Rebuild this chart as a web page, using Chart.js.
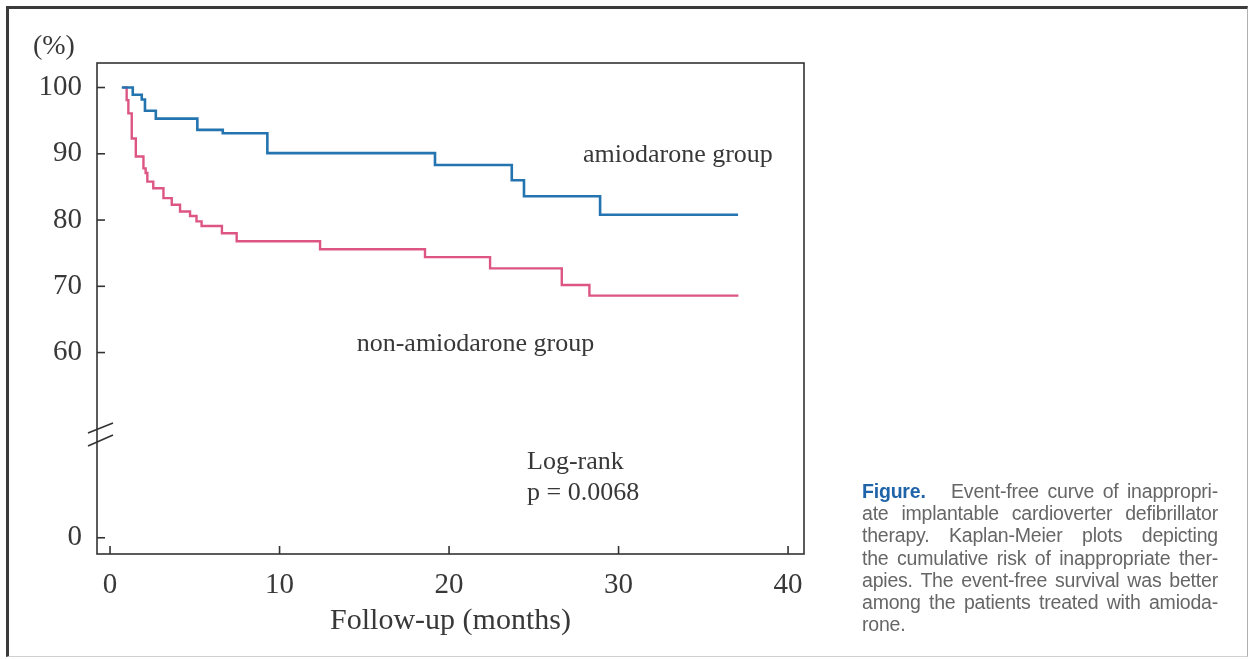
<!DOCTYPE html>
<html>
<head>
<meta charset="utf-8">
<script src="https://cdn.jsdelivr.net/npm/chart.js@4.4.0/dist/chart.umd.min.js"></script>
<style>
  body { margin: 0; background: #fff; }
  #wrap { position: relative; width: 1249px; height: 659px; overflow: hidden; }
  #frame { position: absolute; left: 6px; top: 6px; width: 1238px; height: 647px;
    border-top: 3px solid #3b3b3b; border-left: 3px solid #3b3b3b;
    border-right: 1px solid #b0b0b0; border-bottom: 1px solid #d0d0d0; }
  #box { position: absolute; left: 0; top: 0; width: 1249px; height: 659px; }
  #caption { position: absolute; left: 862px; top: 480px; width: 356px;
    font-family: "Liberation Sans", Arial, sans-serif; font-size: 19.5px; line-height: 22.2px;
    letter-spacing: -0.2px; color: #666; }
  #caption div { text-align: justify; text-align-last: justify; }
  #caption div.last { text-align-last: left; }
  #caption b { color: #1f64a8; }
</style>
</head>
<body>
<div id="wrap">
  <div id="frame"></div>
  <div id="box"><canvas id="km"></canvas></div>
  <div id="caption">
    <div><b>Figure.</b>&nbsp;&nbsp; Event-free curve of inappropri-</div>
    <div>ate implantable cardioverter defibrillator</div>
    <div>therapy. Kaplan-Meier plots depicting</div>
    <div>the cumulative risk of inappropriate ther-</div>
    <div>apies. The event-free survival was better</div>
    <div>among the patients treated with amioda-</div>
    <div class="last">rone.</div>
  </div>
</div>
<script>
// amiodarone group (months, event-free %)
const amioMonths = [0.69, 1.34, 1.87, 2.06, 2.70, 5.15, 6.65, 9.28, 19.17, 23.70, 24.42, 28.91, 37.05];
const amioFree   = [100, 98.9, 98.2, 96.5, 95.3, 93.6, 93.1, 90.1, 88.3, 86.0, 83.6, 80.8, 80.8];

// non-amiodarone group
const nonMonths = [0.79, 0.98, 1.08, 1.28, 1.52, 1.97, 2.10, 2.20, 2.55, 3.15, 3.64, 4.13, 4.72, 5.10, 5.40,
                   6.60, 7.47, 12.39, 18.58, 22.42, 26.65, 28.28, 37.07];
const nonFree   = [100, 98.1, 96.1, 92.3, 89.6, 87.8, 87.1, 85.8, 84.8, 83.3, 82.3, 81.3, 80.6, 79.8, 79.1,
                   78.0, 76.8, 75.6, 74.4, 72.7, 70.2, 68.6, 68.6];

const xTicks = [0, 10, 20, 30, 40];
// the axis is broken: "0" sits just under the break
const ZERO_AT = 32.05;
const BREAK_AT = 47.7;
const yTicks = [ZERO_AT, 60, 70, 80, 90, 100];
const yTickLabels = ['0', '60', '70', '80', '90', '100'];

const notes = [
  { text: '(%)', x: -4.55, y: 106.1, size: 28 },
  { text: 'amiodarone group', x: 27.9, y: 89.8, size: 26 },
  { text: 'non-amiodarone group', x: 14.55, y: 61.2, size: 26 },
  { text: 'Log-rank', x: 24.6, y: 43.5, size: 26 },
  { text: 'p = 0.0068', x: 24.6, y: 38.8, size: 26 }
];

const serif = '"Liberation Serif", "Times New Roman", serif';
const ink = '#383838';

const pts = (xs, ys) => xs.map((v, i) => ({ x: v, y: ys[i] }));

const decor = {
  id: 'decor',
  afterDraw(chart) {
    const { ctx, chartArea: a, scales: { x, y } } = chart;
    const line = (x1, y1, x2, y2) => { ctx.beginPath(); ctx.moveTo(x1, y1); ctx.lineTo(x2, y2); ctx.stroke(); };
    ctx.save();
    ctx.strokeStyle = '#333';
    ctx.lineWidth = 1.6;
    ctx.strokeRect(a.left, a.top, a.right - a.left, a.bottom - a.top);
    y.ticks.forEach(t => { const py = y.getPixelForValue(t.value); line(a.left, py, a.left + 8, py); });
    x.ticks.forEach(t => { const px = x.getPixelForValue(t.value); line(px, a.bottom, px, a.bottom - 8); });
    const by = y.getPixelForValue(BREAK_AT);
    line(a.left - 9, by - 1, a.left + 16, by - 11);
    line(a.left - 9, by + 12, a.left + 16, by + 1);
    ctx.fillStyle = ink;
    ctx.textAlign = 'left';
    ctx.textBaseline = 'middle';
    notes.forEach(n => {
      ctx.font = n.size + 'px ' + serif;
      ctx.fillText(n.text, x.getPixelForValue(n.x), y.getPixelForValue(n.y));
    });
    ctx.restore();
  }
};

new Chart(document.getElementById('km'), {
  type: 'line',
  data: {
    datasets: [
      { label: 'amiodarone group', data: pts(amioMonths, amioFree), borderColor: '#2474b0', borderWidth: 2.6, stepped: true, pointRadius: 0 },
      { label: 'non-amiodarone group', data: pts(nonMonths, nonFree), borderColor: '#dd5683', borderWidth: 2.4, stepped: true, pointRadius: 0 }
    ]
  },
  options: {
    responsive: true,
    maintainAspectRatio: false,
    animation: false,
    layout: { padding: { left: 0, top: 63, right: 445, bottom: 5 } },
    plugins: { legend: { display: false }, tooltip: { enabled: false } },
    scales: {
      x: {
        type: 'linear', min: -0.77, max: 40.94,
        afterBuildTicks: s => { s.ticks = xTicks.map(v => ({ value: v })); },
        afterFit: s => { s.height = 100; },
        grid: { display: false, drawTicks: false },
        border: { display: false },
        ticks: { color: ink, font: { family: serif, size: 29 }, padding: 14, maxRotation: 0, callback: v => String(v) },
        title: { display: true, text: 'Follow-up (months)', color: ink, font: { family: serif, size: 30 }, padding: { top: 0, bottom: 15 } }
      },
      y: {
        type: 'linear', min: 29.6, max: 103.7,
        afterBuildTicks: s => { s.ticks = yTicks.map(v => ({ value: v })); },
        afterFit: s => { s.width = 97; },
        grid: { display: false, drawTicks: false },
        border: { display: false },
        ticks: { color: ink, font: { family: serif, size: 29 }, padding: 15,
          callback: v => { const i = yTicks.indexOf(v); return i >= 0 ? yTickLabels[i] : ''; } }
      }
    }
  },
  plugins: [decor]
});
</script>
</body>
</html>
